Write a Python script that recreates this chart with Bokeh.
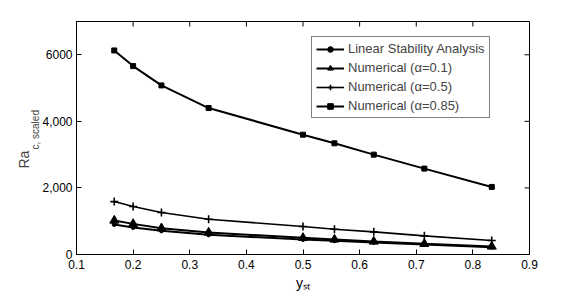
import math
from bokeh.plotting import figure
from bokeh.models import FixedTicker, Legend, LegendItem, Range1d, Title
from bokeh.embed import file_html
from bokeh.resources import INLINE

y_st = [1/6, 1/5, 1/4, 1/3, 1/2, 5/9, 5/8, 5/7, 5/6]
lsa = [900, 810, 710, 590, 450, 410, 360, 300, 220]
num_01 = [1020, 920, 790, 660, 500, 450, 390, 320, 240]
num_05 = [1590, 1440, 1260, 1060, 840, 760, 680, 560, 420]
num_085 = [6130, 5660, 5080, 4400, 3600, 3340, 3000, 2580, 2030]

x_ticks = [0.1, 0.2, 0.3, 0.4, 0.5, 0.6, 0.7, 0.8, 0.9]
y_ticks = [0, 2000, 4000, 6000]
y_tick_labels = ["0", "2,000", "4,000", "6000"]
x_min, x_max = 0.1, 0.9
y_min, y_max = 0, 7000
legend_labels = ["Linear Stability Analysis", "Numerical (\u03b1=0.1)",
                 "Numerical (\u03b1=0.5)", "Numerical (\u03b1=0.85)"]
x_label = "y\u209b\u209c"
y_label_main = "Ra"
y_label_sub = "c, scaled"

FONT = "Liberation Sans"

p = figure(width=585, height=293, output_backend="svg", toolbar_location=None,
           x_range=Range1d(x_min, x_max), y_range=Range1d(y_min, y_max),
           min_border_left=76, min_border_right=56, min_border_top=21, min_border_bottom=39)
p.xgrid.visible = False
p.ygrid.visible = False
p.outline_line_color = "black"
p.outline_line_width = 1
p.background_fill_color = "white"
p.border_fill_color = "white"

p.xaxis.ticker = FixedTicker(ticks=x_ticks)
p.yaxis.ticker = FixedTicker(ticks=y_ticks)
p.yaxis.major_label_overrides = {t: l for t, l in zip(y_ticks, y_tick_labels)}

for ax in p.axis:
    ax.major_tick_in = 5
    ax.major_tick_out = 0
    ax.minor_tick_line_color = None
    ax.axis_line_color = "black"
    ax.major_tick_line_color = "black"
    ax.major_label_text_font = FONT
    ax.major_label_text_font_size = "12px"
    ax.major_label_text_color = "black"
p.xaxis.major_label_standoff = 5
p.yaxis.major_label_standoff = 4

p.xaxis.axis_label = x_label
p.xaxis.axis_label_text_font = FONT
p.xaxis.axis_label_text_font_size = "14px"
p.xaxis.axis_label_text_font_style = "normal"
p.xaxis.axis_label_text_color = "black"
p.xaxis.axis_label_standoff = 3

# y label: main text plus a smaller subscript, as titles in the left panel
p.add_layout(Title(text=y_label_sub, align="left", offset=105, text_font=FONT,
                   text_font_size="10px", text_font_style="normal",
                   standoff=-2), "left")
p.add_layout(Title(text=y_label_main, align="left", offset=86, text_font=FONT,
                   text_font_size="14px", text_font_style="normal",
                   standoff=-6), "left")

# mirrored inward ticks on top and right edges (clipped to the frame)
p.scatter(x_ticks, [y_max] * len(x_ticks), marker="dash", angle=math.pi / 2,
          size=10, line_color="black", line_width=1)
p.scatter([x_max] * len(y_ticks), y_ticks, marker="dash", angle=0,
          size=10, line_color="black", line_width=1)

r1l = p.line(y_st, lsa, line_color="black", line_width=2)
r1m = p.scatter(y_st, lsa, marker="circle", size=4, color="black")
r2l = p.line(y_st, num_01, line_color="black", line_width=2)
r2m = p.scatter(y_st, num_01, marker="triangle", size=9, color="black")
r3l = p.line(y_st, num_05, line_color="black", line_width=1.6)
r3m = p.scatter(y_st, num_05, marker="cross", size=8, color="black", line_width=1.6)
r4l = p.line(y_st, num_085, line_color="black", line_width=2)
r4m = p.scatter(y_st, num_085, marker="square", size=5, color="black")

items = [LegendItem(label=legend_labels[0], renderers=[r1l, r1m]),
         LegendItem(label=legend_labels[1], renderers=[r2l, r2m]),
         LegendItem(label=legend_labels[2], renderers=[r3l, r3m]),
         LegendItem(label=legend_labels[3], renderers=[r4l, r4m])]
legend = Legend(items=items, location=(235, 136), border_line_color="black",
                border_line_width=1, background_fill_color="white", background_fill_alpha=1,
                label_text_font=FONT, label_text_font_size="13px", label_height=14,
                glyph_height=14, glyph_width=28, spacing=4, padding=4, margin=0,
                label_standoff=4)
p.add_layout(legend, "center")

open("out.html", "w").write(file_html(p, INLINE))
